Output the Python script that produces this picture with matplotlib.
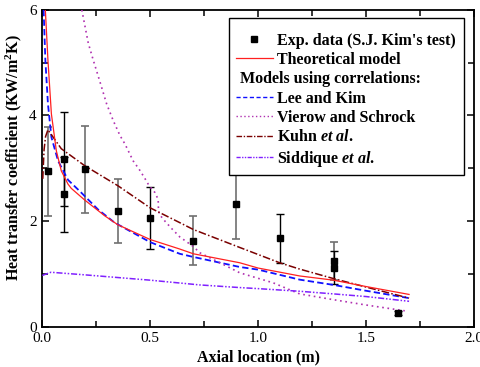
import numpy as np
import matplotlib
matplotlib.use('Agg')
import matplotlib.pyplot as plt
from matplotlib.lines import Line2D
from matplotlib.ticker import MultipleLocator

plt.rcParams['font.family'] = ['Liberation Serif', 'DejaVu Serif']
plt.rcParams['mathtext.fontset'] = 'custom'
plt.rcParams['mathtext.rm'] = 'Liberation Serif:bold'
plt.rcParams['mathtext.it'] = 'Liberation Serif:italic:bold'
plt.rcParams['mathtext.bf'] = 'Liberation Serif:bold'

# experimental data (S.J. Kim's test)
exp_x = [0.025, 0.1, 0.1, 0.2, 0.35, 0.5, 0.7, 0.9, 1.1, 1.35, 1.35, 1.65]
exp_y = [2.94, 3.17, 2.51, 2.98, 2.19, 2.06, 1.63, 2.33, 1.67, 1.25, 1.12, 0.26]
exp_err = [0.84, 0.89, 0.71, 0.83, 0.60, 0.58, 0.46, 0.67, 0.47, 0.36, 0.31, 0.04]
exp_gray = [True, False, False, True, True, False, True, True, False, True, False, False]

# theoretical model
theo_x = [0.014, 0.026, 0.042, 0.065, 0.088, 0.119, 0.134, 0.196, 0.289, 0.35,
          0.5, 0.637, 0.7, 0.915, 1.0, 1.193, 1.35, 1.5, 1.7]
theo_y = [6.0, 5.05, 4.03, 3.33, 2.95, 2.70, 2.62, 2.40, 2.10, 1.93,
          1.65, 1.47, 1.38, 1.21, 1.11, 0.96, 0.88, 0.76, 0.61]

# Lee and Kim
lee_x = [0.006, 0.014, 0.026, 0.042, 0.073, 0.119, 0.18, 0.258, 0.335, 0.5,
         0.637, 0.7, 0.915, 1.0, 1.193, 1.35, 1.5, 1.7]
lee_y = [6.0, 5.05, 4.22, 3.59, 3.14, 2.78, 2.54, 2.22, 1.97, 1.60,
         1.38, 1.32, 1.13, 1.08, 0.89, 0.79, 0.68, 0.54]

# Vierow and Schrock
vs_x = [0.183, 0.213, 0.236, 0.267, 0.298, 0.329, 0.36, 0.383, 0.421, 0.449,
        0.475, 0.495, 0.522, 0.537, 0.538, 0.542, 0.568, 0.599, 0.637, 0.699,
        0.73, 0.823, 0.915, 1.07, 1.193, 1.35, 1.5, 1.68]
vs_y = [6.0, 5.37, 5.05, 4.64, 4.22, 3.90, 3.62, 3.46, 3.14, 2.98,
        2.81, 2.67, 2.54, 2.41, 2.26, 2.13, 2.00, 1.86, 1.70, 1.52,
        1.40, 1.21, 1.02, 0.83, 0.62, 0.51, 0.41, 0.30]

# Kuhn et al.
kuhn_x = [0.002, 0.008, 0.015, 0.026, 0.088, 0.196, 0.35, 0.5, 0.637, 0.7,
          0.915, 1.1, 1.193, 1.35, 1.5, 1.7]
kuhn_y = [2.8, 3.35, 3.6, 3.73, 3.37, 3.05, 2.67, 2.25, 1.97, 1.84,
          1.50, 1.21, 1.09, 0.91, 0.75, 0.54]

# Siddique et al.
sid_x = [0.0, 0.04, 0.2, 0.35, 0.5, 0.73, 0.915, 1.0, 1.193, 1.35, 1.5, 1.7]
sid_y = [0.97, 1.03, 0.98, 0.93, 0.88, 0.79, 0.74, 0.72, 0.67, 0.62, 0.57, 0.48]

fig = plt.figure(figsize=(4.81, 3.67), dpi=100)
ax = fig.add_axes([0.088, 0.11, 0.897, 0.863])

ex = np.array(exp_x)
ey = np.array(exp_y)
ee = np.array(exp_err)
g = np.array(exp_gray)
ax.errorbar(ex[g], ey[g], yerr=ee[g], fmt='none', ecolor='#707070', elinewidth=1.2,
            capsize=3, capthick=1.2, zorder=2)
ax.errorbar(ex[~g], ey[~g], yerr=ee[~g], fmt='none', ecolor='black', elinewidth=1.0,
            capsize=3, capthick=1.0, zorder=2)
ax.plot(ex, ey, 's', color='black', markersize=5, zorder=5)

ax.plot(theo_x, theo_y, '-', color='#ff2020', lw=0.9, zorder=4)
ax.plot(lee_x, lee_y, color='#1010ff', lw=1.3, dashes=(3.5, 1.8), zorder=3)
ax.plot(vs_x, vs_y, color='#b030b0', lw=1.2, dashes=(1, 2.2), zorder=3)
ax.plot(kuhn_x, kuhn_y, color='#7a0000', lw=1.1, dashes=(5, 1.5, 1, 1.5), zorder=3)
ax.plot(sid_x, sid_y, color='#8020ff', lw=1.1, dashes=(4, 1.2, 1, 1.2, 1, 1.2), zorder=3)

ax.set_xlim(0, 2.0)
ax.set_ylim(0, 6)
ax.xaxis.set_major_locator(MultipleLocator(0.5))
ax.xaxis.set_minor_locator(MultipleLocator(0.25))
ax.yaxis.set_major_locator(MultipleLocator(2))
ax.yaxis.set_minor_locator(MultipleLocator(1))
ax.xaxis.set_major_formatter(matplotlib.ticker.FormatStrFormatter('%.1f'))
ax.tick_params(which='both', direction='in', top=True, right=True, labelsize=11,
               width=1.1, pad=4)
ax.tick_params(which='major', length=5)
ax.tick_params(which='minor', length=4)
for s in ax.spines.values():
    s.set_linewidth(1.3)

ax.set_xlabel('Axial location (m)', fontsize=11.5, fontweight='bold', labelpad=3)
ax.set_ylabel('Heat transfer coefficient (KW/m$^2$K)', fontsize=11.5, fontweight='bold')
ax.yaxis.set_label_coords(-0.042, 0.535)

handles = [
    Line2D([], [], ls='none', marker='s', color='black', markersize=4.5),
    Line2D([], [], color='#ff2020', lw=0.9),
    Line2D([], [], ls='none'),
    Line2D([], [], color='#1010ff', lw=1.0, dashes=(3, 1.8)),
    Line2D([], [], color='#b030b0', lw=1.0, dashes=(1, 1.8)),
    Line2D([], [], color='#7a0000', lw=1.0, dashes=(4, 1.2, 1, 1.2)),
    Line2D([], [], color='#8020ff', lw=1.0, dashes=(3, 1, 1, 1, 1, 1)),
]
labels = [
    "Exp. data (S.J. Kim's test)",
    'Theoretical model',
    'Models using correlations:',
    'Lee and Kim',
    'Vierow and Schrock',
    'Kuhn $et\\ al.$',
    'Siddique $et\\ al.$',
]
leg = ax.legend(handles, labels, loc='upper right', bbox_to_anchor=(0.977, 0.975),
                borderaxespad=0, prop={'weight': 'bold', 'size': 11.5},
                handlelength=2.3, handletextpad=0.25, labelspacing=0.21,
                borderpad=0.4, fancybox=False, edgecolor='black', framealpha=1,
                title=' ', title_fontsize=4)
leg.get_frame().set_linewidth(1.0)
leg.get_texts()[2].set_x(-37)

fig.savefig('out.png', dpi=100)
